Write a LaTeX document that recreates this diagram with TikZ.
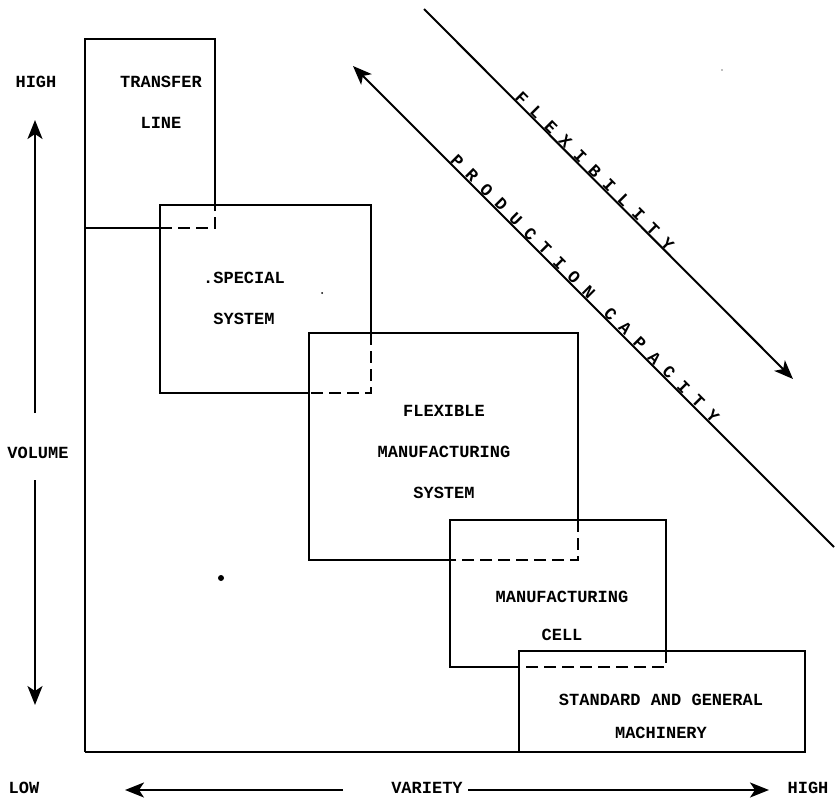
\documentclass[tikz,border=0pt]{standalone}
\usepackage{fontspec}
\setmainfont{Liberation Mono}
\usetikzlibrary{arrows.meta}

\begin{document}
\begin{tikzpicture}[
      x=1pt, y=-1pt,
      frame/.style={line width=2.6pt},
      hidden/.style={line width=2.6pt, dash pattern=on 12pt off 6pt},
      diag/.style={line width=2pt},
      arr/.style={line width=2.2pt, -{Stealth[length=19pt,width=15pt,inset=5pt]}},
      lbl/.style={font=\fontsize{17}{41}\selectfont\bfseries, align=center, inner sep=0pt},
      axlbl/.style={font=\fontsize{17}{20}\selectfont\bfseries, inner sep=0pt},
      slant/.style={font=\fontsize{17.2}{20}\selectfont\bfseries, sloped, above, inner sep=0pt}
    ]
    \useasboundingbox (0,0) rectangle (836,803);

    % boxes, back to front
    \draw[frame] (85,752) -- (85,39) -- (215,39) -- (215,205);
    \draw[frame] (85,228) -- (160,228);
    \draw[hidden] (160,228) -- (215,228) -- (215,205);

    \draw[frame] (309,393) -- (160,393) -- (160,205) -- (371,205) -- (371,333);
    \draw[hidden] (371,333) -- (371,393) -- (309,393);

    \draw[frame] (450,560) -- (309,560) -- (309,333) -- (578,333) -- (578,520);
    \draw[hidden] (578,520) -- (578,560) -- (450,560);

    \draw[frame] (519,667) -- (450,667) -- (450,520) -- (666,520) -- (666,651);
    \draw[hidden] (666,651) -- (666,667) -- (519,667);

    \draw[frame] (85,752) -- (805,752) -- (805,651) -- (519,651) -- (519,752);

    % box texts
    \node[lbl] (transfer) at (161,102) {TRANSFER\\LINE};
    \node[lbl] (special) at (244,298) {.SPECIAL\\SYSTEM};
    \node[lbl] (fms) at (444,451.5) {FLEXIBLE\\MANUFACTURING\\SYSTEM};
    \node[lbl, font=\fontsize{17}{38}\selectfont\bfseries] (cell) at (562,616) {MANUFACTURING\\CELL};
    \node[lbl, font=\fontsize{17}{33}\selectfont\bfseries] (standard) at (661,716.5)
      {STANDARD AND GENERAL\\MACHINERY};

    % axes
    \node[axlbl] (highv) at (36,82) {HIGH};
    \node[axlbl] (volume) at (38,453) {VOLUME};
    \node[axlbl] (lowh) at (24,788) {LOW};
    \node[axlbl] (variety) at (427,788) {VARIETY};
    \node[axlbl] (highh) at (808,788) {HIGH};

    \coordinate (up0) at (35,413);
    \coordinate (up1) at (35,120);
    \coordinate (dn0) at (35,480);
    \coordinate (dn1) at (35,705);
    \coordinate (lf0) at (343,790);
    \coordinate (lf1) at (125,790);
    \coordinate (rt0) at (468,790);
    \coordinate (rt1) at (769,790);
    \draw[arr] (up0) -- (up1);
    \draw[arr] (dn0) -- (dn1);
    \draw[arr] (lf0) -- (lf1);
    \draw[arr] (rt0) -- (rt1);

    % diagonals
    \coordinate (flex0) at (424,9);
    \coordinate (flex1) at (793,379);
    \coordinate (prod0) at (353,66);
    \coordinate (prod1) at (834,547);
    \draw[diag, -{Stealth[length=19pt,width=15pt,inset=5pt]}] (flex0) --
      node[slant, pos=0.45] (flexlbl) {F L E X I B I L I T Y} (flex1);
    \draw[diag, {Stealth[length=19pt,width=15pt,inset=5pt]}-] (prod0) --
      node[slant, pos=0.4725] (prodlbl) {P R O D U C T I O N\ \ C A P A C I T Y} (prod1);

    % specks
    \fill (221,578) circle (3pt);
    \fill (322,293) circle (1pt);
    \fill[gray] (722,70) circle (0.8pt);
  \end{tikzpicture}
\end{document}
